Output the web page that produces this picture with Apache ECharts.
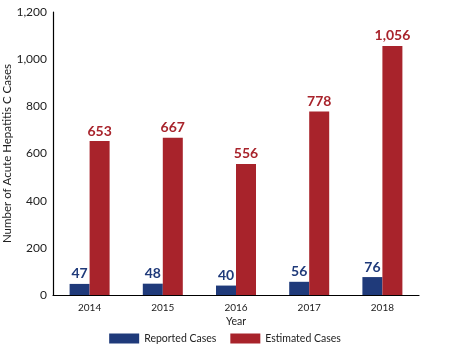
<!DOCTYPE html>
<html><head><meta charset="utf-8">
<script src="https://cdn.jsdelivr.net/npm/echarts@6/dist/echarts.min.js"></script>
<style>html,body{margin:0;padding:0;background:#fff}#c{width:450px;height:350px}</style>
</head><body><div id="c"></div>
<script>
var years = ['2014','2015','2016','2017','2018'];
var reported = [47, 48, 40, 56, 76];
var estimated = [653, 667, 556, 778, 1056];
var yTicks = {min: 0, max: 1200, interval: 200};

var blue = '#1f3a7a', red = '#a8232b';
var font = 'Lato';
var fmt = function(v){ return Number(v).toLocaleString('en-US'); };
var chart = echarts.init(document.getElementById('c'));
chart.setOption({
  animation: false,
  textStyle: {fontFamily: font},
  grid: {left: 53, right: 31, top: 12, bottom: 55, containLabel: false, outerBoundsMode: 'none'},
  legend: {
    top: 328, left: 'center', itemWidth: 30, itemHeight: 10, itemGap: 14,
    icon: 'rect',
    textStyle: {fontFamily: font, fontSize: 10.5, color: '#222'},
    data: ['Reported Cases', 'Estimated Cases']
  },
  xAxis: {
    type: 'category', data: years,
    name: 'Year', nameLocation: 'middle', nameGap: 21, nameMoveOverlap: false,
    nameTextStyle: {fontFamily: font, fontSize: 10.5, color: '#222'},
    axisLine: {lineStyle: {color: '#000', width: 1.2}},
    axisTick: {show: false},
    axisLabel: {fontFamily: font, fontSize: 10, color: '#222', margin: 8}
  },
  yAxis: {
    type: 'value', min: yTicks.min, max: yTicks.max, interval: yTicks.interval,
    name: 'Number of Acute Hepatitis C Cases', nameLocation: 'middle', nameGap: 40, nameMoveOverlap: false,
    nameTextStyle: {fontFamily: font, fontSize: 11.5, color: '#222'},
    axisLine: {show: true, lineStyle: {color: '#000', width: 1.2}},
    axisTick: {show: false},
    splitLine: {show: false},
    axisLabel: {fontFamily: font, fontSize: 12, color: '#222', margin: 6, formatter: fmt}
  },
  series: [
    {name: 'Reported Cases', type: 'bar', data: reported, barWidth: 20, barGap: '0%',
     itemStyle: {color: blue},
     label: {show: true, position: 'top', distance: 3, color: blue, fontWeight: 'bold', fontSize: 14, fontFamily: font, formatter: function(p){return fmt(p.value);}}},
    {name: 'Estimated Cases', type: 'bar', data: estimated, barWidth: 20,
     itemStyle: {color: red},
     label: {show: true, position: 'top', distance: 3, color: red, fontWeight: 'bold', fontSize: 14, fontFamily: font, formatter: function(p){return fmt(p.value);}}}
  ]
});
</script></body></html>
